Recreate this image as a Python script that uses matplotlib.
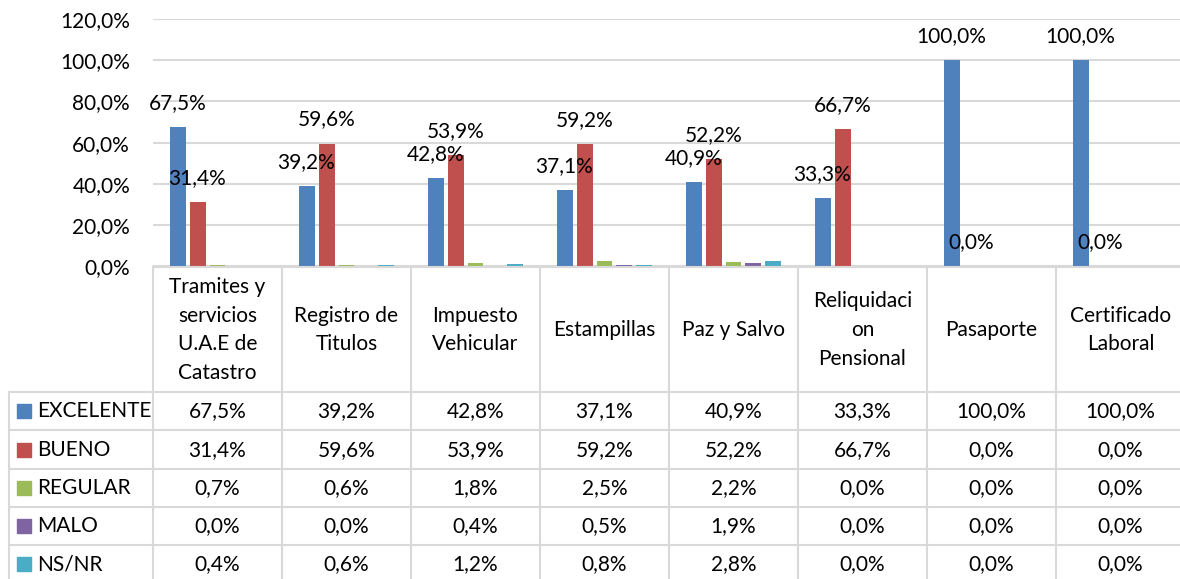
import matplotlib.pyplot as plt
import numpy as np

# data
categories = ['Tramites y\nservicios\nU.A.E de\nCatastro', 'Registro de\nTitulos', 'Impuesto\nVehicular',
              'Estampillas', 'Paz y Salvo', 'Reliquidaci\non\nPensional', 'Pasaporte', 'Certificado\nLaboral']
series_names = ['EXCELENTE', 'BUENO', 'REGULAR', 'MALO', 'NS/NR']
excelente = [67.5, 39.2, 42.8, 37.1, 40.9, 33.3, 100.0, 100.0]
bueno = [31.4, 59.6, 53.9, 59.2, 52.2, 66.7, 0.0, 0.0]
regular = [0.7, 0.6, 1.8, 2.5, 2.2, 0.0, 0.0, 0.0]
malo = [0.0, 0.0, 0.4, 0.5, 1.9, 0.0, 0.0, 0.0]
nsnr = [0.4, 0.6, 1.2, 0.8, 2.8, 0.0, 0.0, 0.0]
yticks = [0, 20, 40, 60, 80, 100, 120]

colors = ['#4F81BD', '#C0504D', '#9BBB59', '#8064A2', '#4BACC6']
series = [excelente, bueno, regular, malo, nsnr]
labelled = [True, True, False, False, False]

plt.rcParams['font.family'] = ['Lato', 'DejaVu Sans']
FS = 15
GRID = '#d9d9d9'

W, H = 1180, 579
fig = plt.figure(figsize=(W / 100, H / 100), dpi=100)

# plot area in pixels
left, right, top, bottom = 153, 1185, 19, 266.5
ax = fig.add_axes([left / W, 1 - bottom / H, (right - left) / W, (bottom - top) / H])
ax.set_xlim(-0.5, len(categories) - 0.5)
ax.set_ylim(0, 120)


def px_y(p):
    # pixel row -> data y of the bar axes
    return (bottom - p) * 120 / (bottom - top)


def px_x(p):
    # pixel column -> data x of the bar axes
    return -0.5 + (p - left) / ((right - left) / len(categories))


x = np.arange(len(categories))
pitch, width = 0.155, 0.124
for k, (name, vals, c) in enumerate(zip(series_names, series, colors)):
    xs = x + (k - 2) * pitch
    ax.bar(xs, vals, width, color=c, zorder=3)
    if labelled[k]:
        for xi, v in zip(xs, vals):
            ax.annotate(f'{v:.1f}%'.replace('.', ','), (xi, v), xytext=(0, 24),
                        textcoords='offset pixels', ha='center', va='center',
                        fontsize=FS, color='black', zorder=5)

ax.set_yticks(yticks)
ax.set_yticklabels([f'{t:.1f}%'.replace('.', ',') for t in yticks], fontsize=FS)
ax.tick_params(axis='y', length=0, pad=16.5)
ax.tick_params(axis='x', length=0, labelbottom=False)
ax.grid(axis='y', color=GRID, linewidth=1.5, zorder=0)
for s in ax.spines.values():
    s.set_visible(False)

# data table below the chart
rows = [267, 392, 430.5, 469, 507, 545, 584]
lw = 1.5
x0, x1 = px_x(9), len(categories) - 0.5
ax.plot([-0.5, x1], [px_y(rows[0])] * 2, color=GRID, lw=lw, clip_on=False, zorder=4)
for r in rows[1:]:
    ax.plot([x0, x1], [px_y(r)] * 2, color=GRID, lw=lw, clip_on=False)
for b in np.arange(len(categories) + 1) - 0.5:
    ax.plot([b, b], [px_y(rows[0]), px_y(rows[-1])], color=GRID, lw=lw, clip_on=False)
ax.plot([x0, x0], [px_y(rows[1]), px_y(rows[-1])], color=GRID, lw=lw, clip_on=False)

for i, cat in enumerate(categories):
    ax.text(i, px_y(330), cat, ha='center', va='center', fontsize=FS,
            linespacing=1.56, clip_on=False)

for k, (name, vals, c) in enumerate(zip(series_names, series, colors)):
    yc = px_y((rows[k + 1] + rows[k + 2]) / 2)
    ax.scatter([px_x(24)], [yc], marker='s', s=105, color=c, clip_on=False)
    ax.text(px_x(37), yc, name, ha='left', va='center', fontsize=FS, clip_on=False)
    for i, v in enumerate(vals):
        ax.text(i, yc, f'{v:.1f}%'.replace('.', ','), ha='center', va='center',
                fontsize=FS, clip_on=False)

fig.savefig('out.png', dpi=100)
